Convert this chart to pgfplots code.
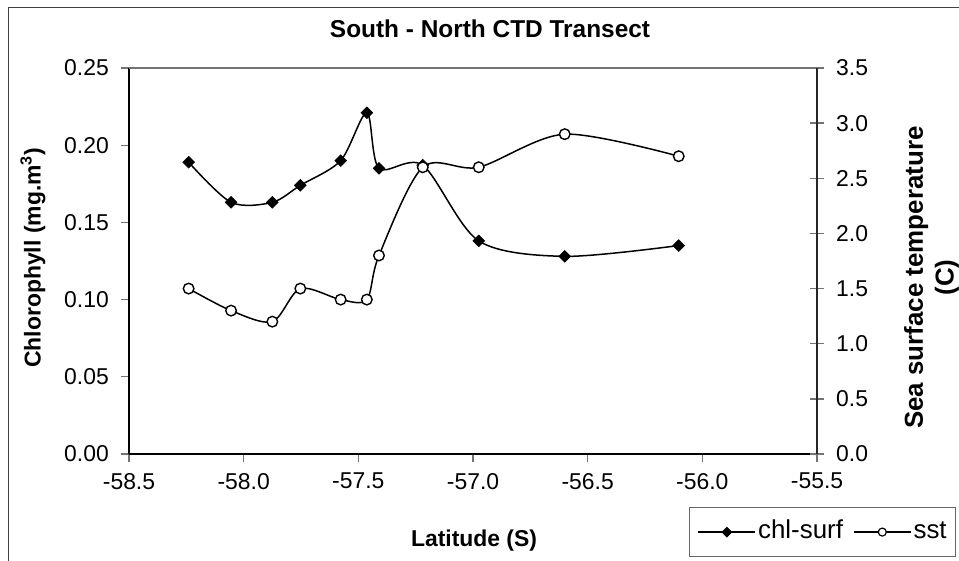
\documentclass[border=0pt]{standalone}
\usepackage{fontspec}
\setmainfont{Liberation Sans}
\usepackage{pgfplots}
\pgfplotsset{compat=1.18}
\pgfplotsset{
  base/.style={scale only axis, width=688bp, height=386bp,
    at={(129bp,107bp)}, anchor=south west,
    xmin=-58.5, xmax=-55.5, ymin=0, clip=false,
    font=\fontsize{23}{27}\selectfont,
    tick style={black!55, line width=1.3bp},
  },
  chl/.style={black, line width=1.5bp, smooth, mark=square*, mark size=4.2bp,
    mark options={rotate=45, solid, fill=black, line width=0.5bp}},
  sst/.style={black, line width=1.5bp, smooth, mark=*, mark size=5.3bp,
    mark options={solid, fill=white, line width=1.4bp}},
}
\begin{document}
\begin{tikzpicture}[x=1bp,y=1bp]
\useasboundingbox (0,0) rectangle (959,561);
\draw[line width=1.3bp, black!75] (8.3,-10) rectangle (975,553.7);

\begin{axis}[base, ymax=0.25,
  axis x line*=bottom, axis y line*=left,
  x axis line style={black, line width=2bp, -},
  y axis line style={black, line width=1.5bp, -},
  xtick={-58.5,-58,-57.5,-57,-56.5,-56,-55.5},
  xticklabels={-58.5,-58.0,-57.5,-57.0,-56.5,-56.0,-55.5},
  ytick={0,0.05,0.1,0.15,0.2,0.25},
  yticklabels={0.00,0.05,0.10,0.15,0.20,0.25},
  tick align=outside, major tick length=8bp,
  xticklabel style={inner sep=0pt, anchor=north},
  xticklabel shift=11bp,
  yticklabel style={inner sep=0pt, anchor=east, xshift=-12bp},
]
\draw[black!55, line width=1.5bp] (rel axis cs:0,1) -- (rel axis cs:1,1);
\addplot[chl] coordinates {
(-58.24,0.189) (-58.055,0.163) (-57.875,0.163) (-57.753,0.174) (-57.577,0.190)
(-57.463,0.221) (-57.41,0.185) (-57.219,0.187) (-56.975,0.138) (-56.60,0.128) (-56.103,0.135)};
\node[font=\bfseries\fontsize{24.5}{28}\selectfont] at (axis description cs:0.5247,1.101) {South - North CTD Transect};
\node[font=\bfseries\fontsize{23}{27}\selectfont] at (axis description cs:0.5015,-0.2254) {Latitude (S)};
\node[font=\bfseries\fontsize{23}{27}\selectfont, rotate=90] at (axis description cs:-0.1395,0.508) {Chlorophyll (mg.m\textsuperscript{3})};
\node[font=\bfseries\fontsize{26}{31}\selectfont, rotate=90, align=center] at (axis description cs:1.1665,0.457) {Sea surface temperature\\(C)};
\end{axis}

\begin{axis}[base, ymax=3.5,
  axis y line*=right, axis x line=none, xtick=\empty,
  y axis line style={black!85, line width=1.3bp, -},
  ytick={0,0.5,1,1.5,2,2.5,3,3.5},
  yticklabels={0.0,0.5,1.0,1.5,2.0,2.5,3.0,3.5},
  tick align=center, major tick length=14bp,
  yticklabel style={inner sep=0pt, anchor=west, xshift=12bp},
  legend columns=2,
  legend style={at={(axis description cs:0.8140,-0.1373)}, anchor=north west,
    draw=black!60, line width=1.2bp, inner xsep=8bp, inner ysep=11bp,
    font=\fontsize{26}{30}\selectfont,
    nodes={inner sep=1bp, text height=19bp, text depth=6bp},
    /tikz/every even column/.append style={column sep=9bp},
    /tikz/every odd column/.append style={column sep=1bp}},
  legend cell align=left,
  legend image code/.code={\draw[mark repeat=2, mark phase=2, #1] plot coordinates {(0bp,0bp) (28.5bp,0bp) (57bp,0bp)};},
]
\addlegendimage{chl, mark size=3.6bp}
\addlegendentry{chl-surf}
\addplot[sst, forget plot] coordinates {
(-58.24,1.5) (-58.055,1.3) (-57.875,1.2) (-57.753,1.5) (-57.577,1.4)
(-57.463,1.4) (-57.41,1.8) (-57.219,2.6) (-56.975,2.6) (-56.60,2.9) (-56.103,2.7)};
\addlegendimage{sst, mark size=4bp, mark options={solid, fill=white, line width=1.2bp}}
\addlegendentry{sst\hspace{20bp}}
\end{axis}
\end{tikzpicture}
\end{document}
